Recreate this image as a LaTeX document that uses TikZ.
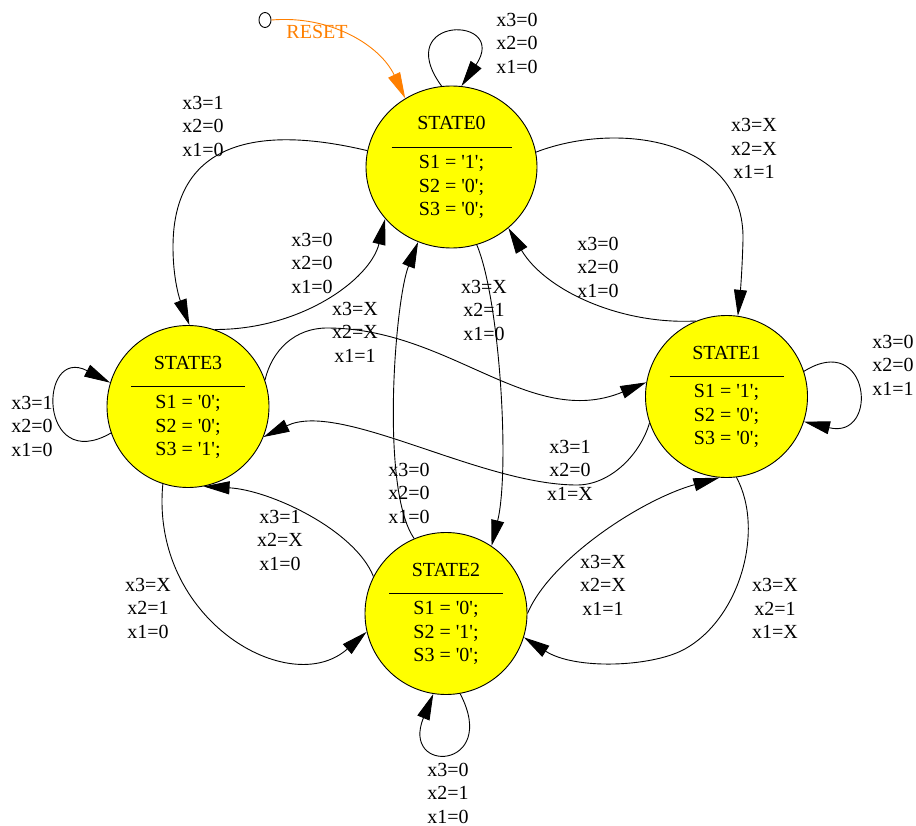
\documentclass[tikz,border=0pt]{standalone}
\usepackage{fontspec}
\newfontfamily\gvfont{Liberation Serif}
\usetikzlibrary{arrows.meta,shapes.geometric}
\definecolor{gvyellow}{RGB}{255,255,0}
\definecolor{gvorange}{RGB}{255,127,0}
\begin{document}
\begin{tikzpicture}[x=1pt,y=-1pt,
  state/.style={ellipse, draw=black, fill=gvyellow, line width=0.9pt, inner sep=0pt, minimum width=162pt, minimum height=162pt},
  lbl/.style={align=center, inner sep=0pt, font=\gvfont\fontsize{20}{23.5}\selectfont},
  stxt/.style={anchor=base, inner sep=0pt, font=\gvfont\fontsize{20}{24}\selectfont},
  sep/.style={line width=0.9pt},
  conn/.style={draw=black, line width=0.9pt, -{Triangle[length=26pt,width=13pt]}},
]
\path[use as bounding box] (0,0) rectangle (916,826);

% states
\node[state, minimum width=171pt] (s0) at (451.5,167) {};
\node[state] (s1) at (726.5,396.5) {};
\node[state] (s2) at (446,613.5) {};
\node[state] (s3) at (188,406.5) {};

% state bodies
\node[stxt] at (451.5,130) {STATE0};
\draw[sep] (391.5,147) -- (511.5,147);
\node[stxt] at (451.5,169) {S1 = '1';};
\node[stxt] at (451.5,192.5) {S2 = '0';};
\node[stxt] at (451.5,216) {S3 = '0';};

\node[stxt] at (726.5,359.5) {STATE1};
\draw[sep] (669.5,376.5) -- (783.5,376.5);
\node[stxt] at (726.5,397.5) {S1 = '1';};
\node[stxt] at (726.5,421) {S2 = '0';};
\node[stxt] at (726.5,444.5) {S3 = '0';};

\node[stxt] at (446,576.5) {STATE2};
\draw[sep] (389,593.5) -- (503,593.5);
\node[stxt] at (446,614.5) {S1 = '0';};
\node[stxt] at (446,638) {S2 = '1';};
\node[stxt] at (446,661.5) {S3 = '0';};

\node[stxt] at (188,369.5) {STATE3};
\draw[sep] (131,386.5) -- (245,386.5);
\node[stxt] at (188,408.5) {S1 = '0';};
\node[stxt] at (188,432) {S2 = '0';};
\node[stxt] at (188,455.5) {S3 = '1';};

% reset
\node[ellipse, draw=black, line width=0.9pt, inner sep=0pt, minimum width=12pt, minimum height=15pt] (rst) at (265,20) {};
\draw[conn, draw=gvorange, -{Triangle[length=26pt,width=13pt,color=gvorange]}] (rst.east) .. controls (330,15) and (380,45) .. (s0.124);
\node[lbl, text=gvorange] at (317,32) {RESET};

% self loops
\draw[conn] (s0.97) .. controls (390,15) and (510,15) .. (s0.83);
\node[lbl] at (517,43) {x3=0\\x2=0\\x1=0};

\draw[conn] (s3.199) .. controls (38,475) and (38,345) .. (s3.163);
\node[lbl] at (32,426) {x3=1\\x2=0\\x1=0};

\draw[conn] (s1.18) .. controls (870,330) and (880,440) .. (s1.342);
\node[lbl] at (893,365) {x3=0\\x2=0\\x1=1};

\draw[conn] (s2.280) .. controls (500,770) and (400,775) .. (s2.261);
\node[lbl] at (448,793) {x3=0\\x2=1\\x1=0};

% transitions
\draw[conn] (s0.169) .. controls (260,125) and (173,140) .. (173,247) .. controls (173,280) and (180,300) .. (s3.89);
\node[lbl] at (203,126) {x3=1\\x2=0\\x1=0};

\draw[conn] (s3.71) .. controls (300,330) and (370,280) .. (s0.218);
\node[lbl] at (312,263) {x3=0\\x2=0\\x1=0};

\draw[conn] (s0.10) .. controls (620,120) and (745,140) .. (743,240) .. controls (742,275) and (740,295) .. (s1.82);
\node[lbl] at (754,148.5) {x3=X\\x2=X\\x1=1};

\draw[conn] (s1.112) .. controls (620,325) and (545,290) .. (s0.313);
\node[lbl] at (598,267) {x3=0\\x2=0\\x1=0};

\draw[conn] (s0.288) .. controls (500,300) and (510,470) .. (s2.56);
\node[lbl] at (484,310) {x3=X\\x2=1\\x1=0};

\draw[conn] (s2.113) .. controls (380,490) and (395,300) .. (s0.246);
\node[lbl] at (409,493) {x3=0\\x2=0\\x1=0};

\draw[conn] (s3.19) .. controls (272,350) and (295,328) .. (327,328) .. controls (450,328) and (530,430) .. (s1.170);
\node[lbl] at (355,332) {x3=X\\x2=X\\x1=1};

\draw[conn] (s1.199) .. controls (640,455) and (610,485) .. (577,485) .. controls (480,485) and (340,400) .. (s3.338);
\node[lbl] at (570,470) {x3=1\\x2=0\\x1=X};

\draw[conn] (s3.252) .. controls (150,620) and (290,700) .. (s2.193);
\node[lbl] at (148,608) {x3=X\\x2=1\\x1=0};

\draw[conn] (s2.153) .. controls (355,530) and (270,490) .. (s3.281);
\node[lbl] at (280,540) {x3=1\\x2=X\\x1=0};

\draw[conn] (s2.0) .. controls (550,560) and (640,500) .. (s1.265);
\node[lbl] at (603,585) {x3=X\\x2=X\\x1=1};

\draw[conn] (s1.277) .. controls (765,530) and (740,620) .. (683,650) .. controls (650,667) and (575,670) .. (s2.343);
\node[lbl] at (775,608.5) {x3=X\\x2=1\\x1=X};
\end{tikzpicture}
\end{document}
